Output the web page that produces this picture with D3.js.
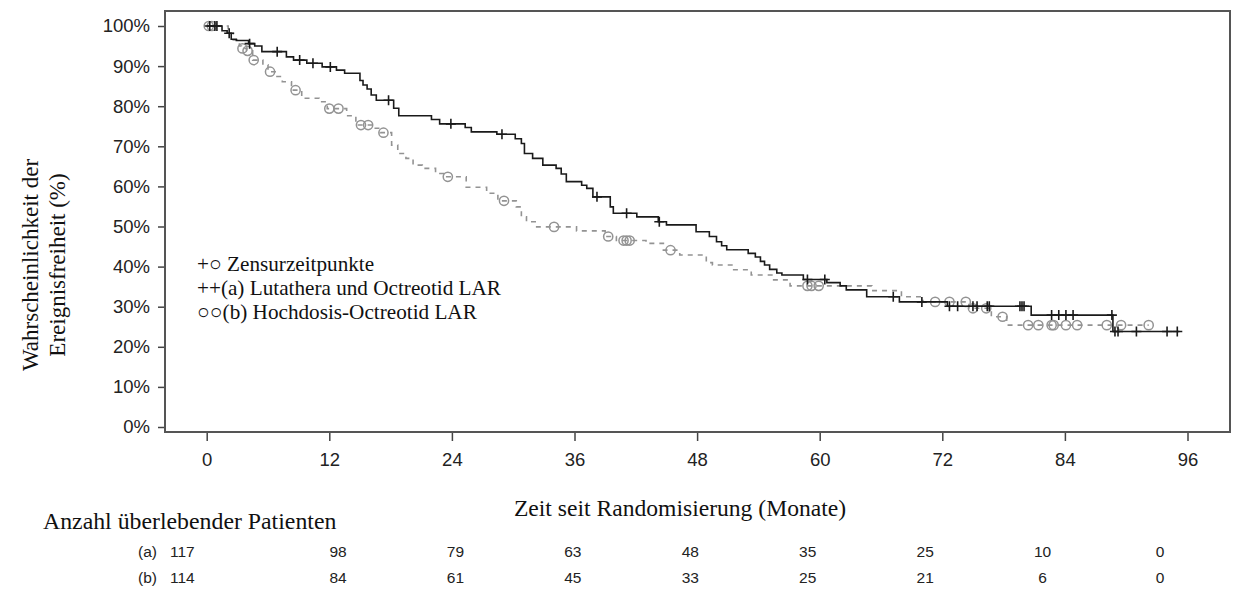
<!DOCTYPE html>
<html>
<head>
<meta charset="utf-8">
<script src="https://cdn.jsdelivr.net/npm/d3@7"></script>
<style>
  body { margin: 0; background: #fff; }
  svg { display: block; }
  .tick text { font-family: "Liberation Sans", Arial, sans-serif; font-size: 18.5px; fill: #222; }
  .tick line { stroke: #444; stroke-width: 1.5; }
  .serif { font-family: "Liberation Serif", "Times New Roman", serif; fill: #111; }
  .risk { font-family: "Liberation Sans", Arial, sans-serif; font-size: 15.5px; fill: #222; }
</style>
</head>
<body>
<svg id="chart" width="1256" height="606"></svg>
<script>
// Kaplan-Meier steps: time (months), survival (%)
const stepsA = [
  [0, 100], [1.5, 98.8], [2.0, 98.2], [2.4, 96.7], [2.9, 96.4], [4.1, 95.6], [4.7, 95.0],
  [5.4, 93.6], [7.8, 92.3], [8.5, 91.5], [9.8, 90.7], [11.3, 89.8], [12.7, 89.0],
  [13.5, 88.2], [15.0, 86.4], [15.3, 85.3], [15.7, 84.3], [16.1, 82.8], [16.6, 81.5],
  [18.3, 79.5], [18.8, 77.6], [22.0, 76.7], [22.8, 75.6], [25.3, 74.7], [25.9, 73.6],
  [28.4, 73.0], [30.2, 71.9], [30.8, 70.7], [31.1, 68.2], [31.9, 67.0], [32.9, 65.3],
  [34.2, 64.5], [34.7, 63.1], [35.2, 61.2], [36.7, 60.3], [37.2, 59.5], [37.8, 57.4],
  [39.5, 54.9], [39.8, 53.3], [42.1, 52.4], [44.2, 51.2], [45.0, 50.4], [47.9, 48.7],
  [49.2, 47.5], [49.9, 46.2], [50.4, 45.2], [50.9, 44.2], [53.0, 43.3], [53.7, 42.4],
  [54.2, 41.3], [54.6, 40.4], [55.1, 39.3], [55.8, 38.4], [56.3, 37.9], [58.4, 36.8],
  [60.7, 36.0], [62.0, 35.2], [62.6, 34.2], [64.6, 32.5], [67.8, 31.2], [72.5, 30.1],
  [80.7, 27.9], [88.7, 23.8], [95.2, 23.8]
];
const censorA = [0.3, 0.8, 1.0, 2.2, 4.2, 6.9, 9.1, 10.4, 12.1, 17.8, 23.9, 28.9, 38.2, 41.1,
  44.3, 58.8, 60.5, 67.2, 70.0, 72.7, 73.5, 75.0, 75.4, 76.4, 76.6, 79.6, 79.8, 80.0,
  82.7, 83.4, 84.1, 84.8, 88.6, 88.9, 89.2, 91.0, 94.0, 95.0];

const stepsB = [
  [0, 100], [2.1, 98.2], [2.6, 96.5], [3.2, 95.0], [3.4, 94.4], [3.9, 93.8], [4.5, 91.5],
  [5.5, 90.3], [6.0, 88.6], [6.7, 87.4], [7.4, 86.1], [8.3, 84.0], [9.3, 82.0], [11.0, 81.1],
  [11.8, 79.4], [13.7, 77.6], [14.6, 75.3], [16.5, 74.5], [17.0, 73.4], [18.1, 70.3],
  [18.7, 68.2], [19.5, 67.0], [20.2, 65.3], [21.1, 64.5], [22.4, 63.2], [23.3, 62.4],
  [25.4, 59.8], [27.4, 58.3], [28.5, 56.4], [30.3, 54.9], [30.8, 52.4], [31.3, 51.2],
  [32.3, 49.9], [36.2, 48.9], [39.0, 47.5], [40.1, 46.5], [43.0, 45.8], [44.7, 44.1],
  [46.3, 42.9], [48.9, 41.0], [49.5, 40.4], [51.5, 39.2], [53.3, 37.9], [55.4, 36.7],
  [57.1, 35.2], [65.1, 34.0], [68.0, 32.5], [70.1, 31.2], [74.6, 29.6], [76.8, 27.5],
  [78.3, 25.4], [92.2, 25.4]
];
const censorB = [0.2, 0.5, 3.5, 4.0, 4.6, 6.2, 8.7, 12.0, 12.9, 15.1, 15.8, 17.3, 23.6, 29.1,
  34.0, 39.3, 40.8, 41.1, 41.4, 45.4, 58.8, 59.2, 59.9, 71.3, 72.7, 74.3, 75.0, 76.3, 77.9,
  80.4, 81.4, 82.7, 82.9, 84.1, 85.2, 88.1, 89.5, 92.2];

const xTicks = [0, 12, 24, 36, 48, 60, 72, 84, 96];
const yTicks = [0, 10, 20, 30, 40, 50, 60, 70, 80, 90, 100];
const riskA = [117, 98, 79, 63, 48, 35, 25, 10, 0];
const riskB = [114, 84, 61, 45, 33, 25, 21, 6, 0];
const legendLines = ["+\u25CB Zensurzeitpunkte", "++(a) Lutathera und Octreotid LAR", "\u25CB\u25CB(b) Hochdosis-Octreotid LAR"];

const svg = d3.select("#chart");
const frame = { left: 165, right: 1230, top: 11, bottom: 432 };

const x = d3.scaleLinear().domain([0, 96]).range([206.7, 1187.5]);
const y = d3.scaleLinear().domain([0, 100]).range([427, 26]);
const xRisk = d3.scaleLinear().domain([12, 96]).range([338, 1160]);

// survival value at time t (step function)
function survAt(steps, t) {
  let s = steps[0][1];
  for (const p of steps) { if (p[0] <= t) s = p[1]; else break; }
  return s;
}

// axes
svg.append("g")
  .attr("transform", `translate(${frame.left},0)`)
  .call(d3.axisLeft(y).tickValues(yTicks).tickFormat(d => d + "%").tickSize(7).tickPadding(8))
  .call(g => g.select(".domain").remove());

svg.append("g")
  .attr("transform", `translate(0,${frame.bottom})`)
  .call(d3.axisBottom(x).tickValues(xTicks).tickFormat(d3.format("d")).tickSize(9).tickPadding(12))
  .call(g => g.select(".domain").remove());

// frame
svg.append("rect")
  .attr("x", frame.left).attr("y", frame.top)
  .attr("width", frame.right - frame.left).attr("height", frame.bottom - frame.top)
  .attr("fill", "none").attr("stroke", "#555").attr("stroke-width", 2);

const line = d3.line()
  .x(d => x(d[0]))
  .y(d => y(d[1]))
  .curve(d3.curveStepAfter);

// curve b (grey dashed)
svg.append("path")
  .datum(stepsB)
  .attr("fill", "none")
  .attr("stroke", "#939393")
  .attr("stroke-width", 1.6)
  .attr("stroke-dasharray", "5,5")
  .attr("d", line);

svg.append("g").selectAll("circle")
  .data(censorB)
  .join("circle")
  .attr("cx", d => x(d))
  .attr("cy", d => y(survAt(stepsB, d)))
  .attr("r", 4.6)
  .attr("fill", "none")
  .attr("stroke", "#939393")
  .attr("stroke-width", 1.5);

// curve a (black solid)
svg.append("path")
  .datum(stepsA)
  .attr("fill", "none")
  .attr("stroke", "#1a1a1a")
  .attr("stroke-width", 1.6)
  .attr("d", line);

svg.append("g").selectAll("path")
  .data(censorA)
  .join("path")
  .attr("d", d => {
    const cx = x(d), cy = y(survAt(stepsA, d));
    return `M${cx - 5},${cy}H${cx + 5}M${cx},${cy - 5}V${cy + 5}`;
  })
  .attr("stroke", "#1a1a1a")
  .attr("stroke-width", 1.6);

// legend
svg.append("g").selectAll("text")
  .data(legendLines)
  .join("text")
  .attr("class", "serif")
  .attr("x", 197)
  .attr("y", (d, i) => 271 + i * 24)
  .attr("font-size", "21.2px")
  .text(d => d);

// axis titles
svg.append("text")
  .attr("class", "serif")
  .attr("x", 680).attr("y", 516)
  .attr("text-anchor", "middle")
  .attr("font-size", "23.6px")
  .text("Zeit seit Randomisierung (Monate)");

const yTitle = svg.append("text")
  .attr("class", "serif")
  .attr("transform", "translate(38,265) rotate(-90)")
  .attr("text-anchor", "middle")
  .attr("font-size", "23px");
yTitle.append("tspan").attr("x", 0).attr("y", 0).text("Wahrscheinlichkeit der");
yTitle.append("tspan").attr("x", 0).attr("y", 27).text("Ereignisfreiheit (%)");

// number at risk table
svg.append("text")
  .attr("class", "serif")
  .attr("x", 43).attr("y", 529)
  .attr("font-size", "23.8px")
  .text("Anzahl \u00FCberlebender Patienten");

[["(a)", riskA, 557], ["(b)", riskB, 583]].forEach(([lab, vals, yy]) => {
  svg.append("text").attr("class", "risk").attr("x", 138).attr("y", yy).text(lab);
  svg.append("text").attr("class", "risk").attr("x", 170).attr("y", yy).text(vals[0]);
  svg.append("g").selectAll("text")
    .data(xTicks.slice(1))
    .join("text")
    .attr("class", "risk")
    .attr("x", d => xRisk(d))
    .attr("y", yy)
    .attr("text-anchor", "middle")
    .text((d, i) => vals[i + 1]);
});
</script>
</body>
</html>
